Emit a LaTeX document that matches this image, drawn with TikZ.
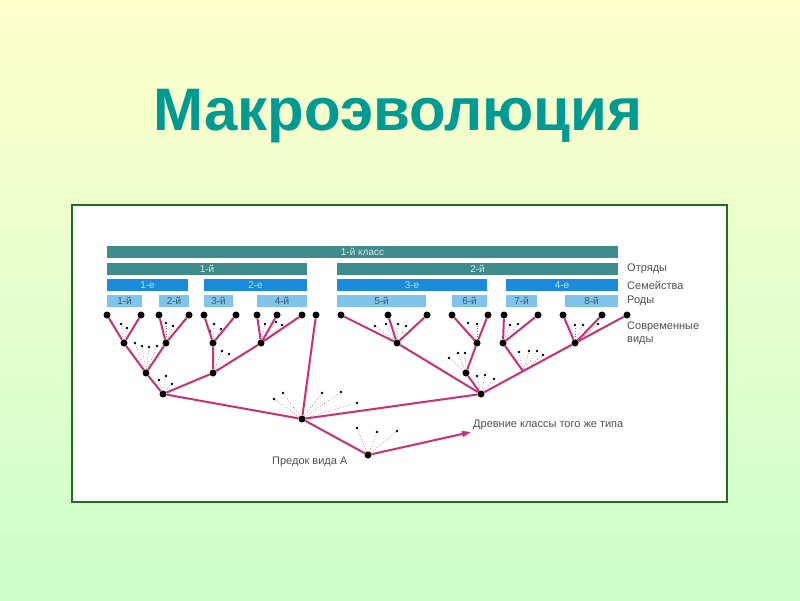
\documentclass[tikz,border=0pt]{standalone}
\usepackage{fontspec}
\setmainfont{Liberation Sans}
\usetikzlibrary{arrows.meta}

\definecolor{bgtop}{HTML}{FFFFCC}
\definecolor{bgbot}{HTML}{CCFFCC}
\definecolor{titlecol}{HTML}{009A92}
\definecolor{framecol}{HTML}{1E6E1E}
\definecolor{classcol}{HTML}{3E8C8C}
\definecolor{famcol}{HTML}{1A8CDB}
\definecolor{gencol}{HTML}{80C4EC}
\definecolor{branchcol}{HTML}{C8307A}
\definecolor{labelcol}{HTML}{505050}

\tikzset{
  taxbar/.style={anchor=north west, inner sep=0, outer sep=0, minimum height=12,
    font=\fontsize{10}{10}\selectfont},
  classbar/.style={taxbar, fill=classcol, text=white!80!classcol},
  fambar/.style={taxbar, fill=famcol, text=white!70!famcol},
  genbar/.style={taxbar, fill=gencol, text=black!55!gencol},
  rank/.style={anchor=west, inner sep=0, text=labelcol, font=\fontsize{11}{13.5}\selectfont, align=left},
  sp/.style={circle, fill=black, inner sep=0, minimum size=7},
  xdot/.style={circle, fill=black, inner sep=0, minimum size=2.6},
  branch/.style={branchcol, line width=2},
  extinct/.style={black!55, line width=0.6, dotted},
}

% bar for a taxon: style, name, left, right, top, text
\newcommand{\taxon}[6]{\node[#1, minimum width=#4-#3] (#2) at (#3,#5) {#6};}
% extinct species round a node
\newcommand{\fan}[2]{%
  \foreach \x/\y [count=\i] in {#2} {
    \node[xdot] (#1x\i) at (\x,\y) {};
    \draw[extinct] (#1) -- (#1x\i);
  }}

\begin{document}
\begin{tikzpicture}[x=1pt, y=-1pt]
    \useasboundingbox (0,0) rectangle (800,600);
    \shade[top color=bgtop, bottom color=bgbot] (0,0) rectangle (800,600);

    \node[anchor=base, text=titlecol, font=\fontsize{60}{60}\bfseries\selectfont] (title) at (398,130) {Макроэволюция};

    \draw[framecol, line width=2, fill=white] (72,205) rectangle (727,502);

    % classification bars
    \taxon{classbar}{cls}{107}{618}{246}{1-й класс}
    \taxon{classbar}{ord1}{107}{307}{263}{1-й}
    \taxon{classbar}{ord2}{337}{618}{263}{2-й}
    \taxon{fambar}{fam1}{107}{188}{279}{1-е}
    \taxon{fambar}{fam2}{204}{307}{279}{2-е}
    \taxon{fambar}{fam3}{337}{487}{279}{3-е}
    \taxon{fambar}{fam4}{506}{618}{279}{4-е}
    \taxon{genbar}{gen1}{107}{142}{295}{1-й}
    \taxon{genbar}{gen2}{159}{189}{295}{2-й}
    \taxon{genbar}{gen3}{204}{233}{295}{3-й}
    \taxon{genbar}{gen4}{257}{307}{295}{4-й}
    \taxon{genbar}{gen5}{337}{426}{295}{5-й}
    \taxon{genbar}{gen6}{452}{487}{295}{6-й}
    \taxon{genbar}{gen7}{506}{537}{295}{7-й}
    \taxon{genbar}{gen8}{565}{618}{295}{8-й}

    \node[rank] (orders) at (627,269) {Отряды};
    \node[rank] (families) at (627,285) {Семейства};
    \node[rank] (genera) at (627,301) {Роды};
    \node[rank] (modern) at (627,333) {Современные\\виды};

    % modern species
    \foreach \n/\x in {1/107, 2/141, 3/159, 4/189, 5/204, 6/236, 7/257, 8/277, 9/302, 10/316,
                       11/341, 12/388, 13/427, 14/452, 15/488, 16/504, 17/538, 18/563, 19/602, 20/627}
        \node[sp] (l\n) at (\x,315) {};

    % ancestors
    \node[sp] (a1) at (124,343) {};
    \node[sp] (a2) at (166,343) {};
    \node[sp] (a3) at (213,343) {};
    \node[sp] (a4) at (261,343) {};
    \node[sp] (b1) at (146,373) {};
    \node[sp] (b2) at (213,373) {};
    \node[sp] (c1) at (163,394) {};
    \node[sp] (r) at (302,419) {};
    \node[sp] (d1) at (397,343) {};
    \node[sp] (d2) at (477,343) {};
    \node[sp] (d3) at (466,373) {};
    \node[sp] (d4) at (503,343) {};
    \node[sp] (d5) at (575,343) {};
    \node[sp] (c2) at (481,394) {};
    \coordinate (e) at (523,371.2);
    \node[sp] (p) at (368,455) {};
    \coordinate (tip) at (471,432);

    % extinct lines
    \fan{a1}{121/324, 127/328}
    \fan{a2}{166/323, 173/326}
    \fan{a3}{210/331, 214/324, 221/329}
    \fan{a4}{265/324, 276/322, 282/325}
    \fan{b1}{135/343, 142/346, 149/347, 157/346}
    \fan{b2}{222/351, 229/354}
    \fan{c1}{159/380, 166/376, 172/384}
    \fan{r}{274/399, 283/393, 322/393, 341/392, 357/403}
    \fan{p}{357/428, 377/432, 397/431}
    \fan{d1}{375/326, 386/324, 398/324, 406/326}
    \fan{d2}{468/323, 477/324}
    \fan{d3}{449/358, 458/353, 465/353}
    \fan{c2}{477/376, 485/375, 494/379}
    \fan{d4}{510/325, 518/324}
    \fan{e}{519/352, 529/351, 537/351, 543/355}
    \fan{d5}{575/325, 583/325, 598/324}

    % branches
    \draw[branch] (l1) -- (a1) -- (l2);
    \draw[branch] (l3) -- (a2) -- (l4);
    \draw[branch] (l5) -- (a3) -- (l6);
    \draw[branch] (l7) -- (a4) -- (l8);
    \draw[branch] (a4) -- (l9);
    \draw[branch] (a1) -- (b1) -- (a2);
    \draw[branch] (a3) -- (b2) -- (a4);
    \draw[branch] (b1) -- (c1) -- (b2);
    \draw[branch] (c1) -- (r) -- (l10);
    \draw[branch] (r) -- (c2);
    \draw[branch] (r) -- (p);
    \draw[branch] (l11) -- (d1) -- (l12);
    \draw[branch] (d1) -- (l13);
    \draw[branch] (l14) -- (d2) -- (l15);
    \draw[branch] (d2) -- (d3) -- (c2);
    \draw[branch] (d1) -- (c2);
    \draw[branch] (c2) -- (e) -- (d5);
    \draw[branch] (e) -- (d4);
    \draw[branch] (l16) -- (d4) -- (l17);
    \draw[branch] (l18) -- (d5) -- (l19);
    \draw[branch] (d5) -- (l20);
    \draw[branch, -{Triangle[length=9, width=6]}] (p) -- (tip);

    \node[rank, anchor=base west] (ancient) at (473,427) {Древние классы того же типа};
    \node[rank, anchor=base west] (ancestor) at (272,464) {Предок вида А};
\end{tikzpicture}
\end{document}
